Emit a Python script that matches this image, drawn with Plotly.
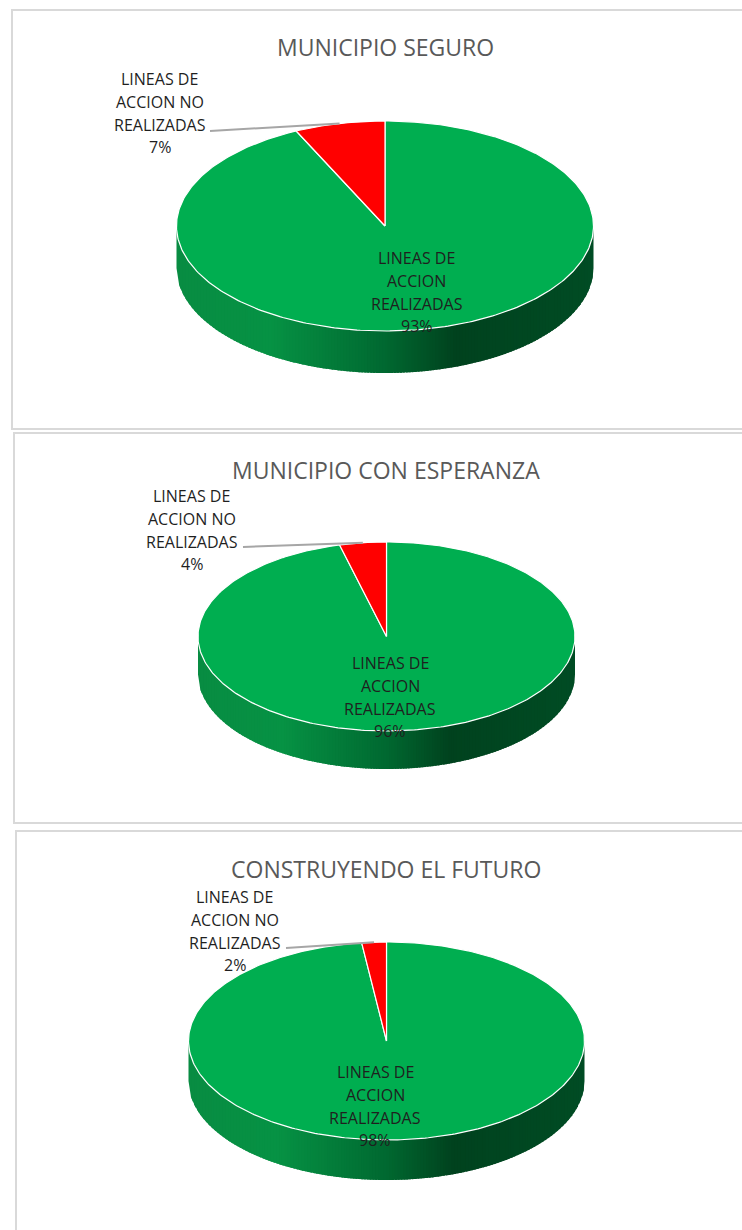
import numpy as np
import plotly.graph_objects as go

# ---------- data ----------
CHART_TITLES = ["MUNICIPIO SEGURO", "MUNICIPIO CON ESPERANZA", "CONSTRUYENDO EL FUTURO"]
DONE_LABEL = ["LINEAS DE", "ACCION", "REALIZADAS"]
NOT_DONE_LABEL = ["LINEAS DE", "ACCION NO", "REALIZADAS"]
DONE_PCT = [93, 96, 98]
NOT_DONE_PCT = [7, 4, 2]

# ---------- layout of each panel, in page units ----------
PANELS = [
    dict(cx=385, cy=226, rx=208.5, ry=105, depth=42, title_xy=(385, 47),
         nd_xy=(159.5, 79), d_xy=(416.5, 258), leader=(210, 131), frame=(12, 10, 800, 429)),
    dict(cx=386.5, cy=636.5, rx=188.5, ry=94.5, depth=38, title_xy=(386, 470),
         nd_xy=(191.7, 496), d_xy=(390, 663), leader=(243, 547), frame=(14, 433, 800, 823)),
    dict(cx=386.5, cy=1041, rx=198, ry=99, depth=40, title_xy=(386, 869),
         nd_xy=(234.7, 897), d_xy=(375, 1072), leader=(286, 948), frame=(16, 831, 800, 1300)),
]
FONT = "Open Sans, sans-serif"
LINE_STEP = 22.8
LABEL_SIZE = 16
TITLE_SIZE = 23
GREEN = "#00AE50"
RED = "#FF0000"
SIDE_STOPS = [(0.0, (8, 140, 66)), (0.22, (6, 146, 68)), (0.5, (0, 104, 48)),
              (0.665, (0, 66, 30)), (1.0, (0, 76, 36))]

fig = go.Figure()


def wedge(p, start_pct, end_pct):
    """Slice of the tilted disc; percentages run clockwise from 12 o'clock."""
    n = max(int(abs(end_pct - start_pct) * 4), 4)
    a = np.radians(np.linspace(start_pct, end_pct, n) * 3.6)
    x = p["cx"] + p["rx"] * np.sin(a)
    y = p["cy"] - p["ry"] * np.cos(a)
    return np.r_[p["cx"], x, p["cx"]], np.r_[p["cy"], y, p["cy"]]


def side_color(t):
    ts = [s[0] for s in SIDE_STOPS]
    c = [np.interp(t, ts, [s[1][i] for s in SIDE_STOPS]) for i in range(3)]
    return "rgb(%d,%d,%d)" % tuple(round(v) for v in c)


def add_side(p):
    edges = np.linspace(-1, 1, 141)
    for u0, u1 in zip(edges[:-1], edges[1:]):
        # each strip overlaps the next one so no seams show
        us = np.linspace(u0, min(u1 + 0.01, 1), 5)
        xs = p["cx"] + p["rx"] * us
        ys = p["cy"] + p["depth"] + p["ry"] * np.sqrt(np.clip(1 - us ** 2, 0, 1))
        fig.add_trace(go.Scatter(
            x=np.r_[xs, xs[-1], xs[0], xs[0]], y=np.r_[ys, p["cy"], p["cy"], ys[0]],
            mode="lines", fill="toself", fillcolor=side_color((u0 + 1) / 2),
            line=dict(width=0), hoverinfo="skip", showlegend=False))


def add_text(x, y, text, size, color):
    fig.add_annotation(x=x, y=y, text=text, xref="x", yref="y", showarrow=False,
                       xanchor="center", yanchor="middle",
                       font=dict(family=FONT, size=size, color=color))


shapes = []
for p, title, done, miss in zip(PANELS, CHART_TITLES, DONE_PCT, NOT_DONE_PCT):
    x0, y0, x1, y1 = p["frame"]
    shapes.append(dict(type="rect", x0=x0, y0=y0, x1=x1, y1=y1, xref="x", yref="y",
                       line=dict(color="#D9D9D9", width=2), fillcolor="white", layer="below"))
    add_side(p)
    for (a, b, col) in [(0, done, GREEN), (done, done + miss, RED)]:
        wx, wy = wedge(p, a, b)
        fig.add_trace(go.Scatter(x=wx, y=wy, mode="lines", fill="toself", fillcolor=col,
                                 line=dict(color="white", width=1.2), hoverinfo="skip",
                                 showlegend=False))
    mid = np.radians((done + miss / 2) * 3.6)
    fig.add_trace(go.Scatter(
        x=[p["leader"][0], p["cx"] + p["rx"] * np.sin(mid)],
        y=[p["leader"][1], p["cy"] - p["ry"] * np.cos(mid)],
        mode="lines", line=dict(color="#A6A6A6", width=2), hoverinfo="skip", showlegend=False))
    add_text(*p["title_xy"], title, TITLE_SIZE, "#595959")
    for key, lines, pct in [("nd_xy", NOT_DONE_LABEL, miss), ("d_xy", DONE_LABEL, done)]:
        lx, ly = p[key]
        for i, line in enumerate(lines + [f"{pct}%"]):
            add_text(lx, ly + i * LINE_STEP, line, LABEL_SIZE, "#1F1F1F")

fig.update_layout(
    width=742, height=1230, autosize=False, margin=dict(l=0, r=0, t=0, b=0),
    paper_bgcolor="white", plot_bgcolor="white", shapes=shapes, showlegend=False,
    xaxis=dict(range=[0, 742], visible=False, fixedrange=True),
    yaxis=dict(range=[1230, 0], visible=False, fixedrange=True),
)
fig.write_html("out.html", config=dict(displayModeBar=False),
               post_script="document.body.style.margin='0';document.documentElement.style.overflow='hidden';")
